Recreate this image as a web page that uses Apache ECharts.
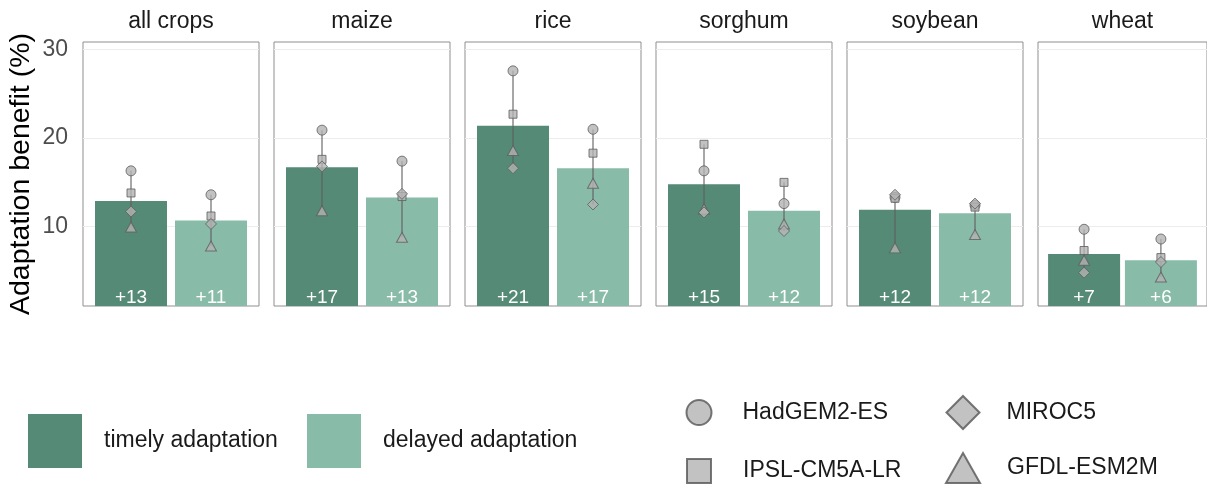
<!DOCTYPE html>
<html><head><meta charset="utf-8">
<script src="https://cdn.jsdelivr.net/npm/echarts@6/dist/echarts.min.js"></script>
<style>html,body{margin:0;padding:0;background:#fff}#c{width:1207px;height:487px}</style>
</head><body><div id="c"></div>
<script>
// ---- data ----
const crops = ['all crops', 'maize', 'rice', 'sorghum', 'soybean', 'wheat'];
const timelyBenefit  = [12.9, 16.7, 21.4, 14.8, 11.9, 6.9];
const delayedBenefit = [10.7, 13.3, 16.6, 11.8, 11.5, 6.2];
const gcmNames = ['GFDL-ESM2M', 'HadGEM2-ES', 'IPSL-CM5A-LR', 'MIROC5'];
const gfdlTimely    = [9.96, 11.8, 18.6, 12.0, 7.6, 6.2];
const gfdlDelayed   = [7.8, 8.8, 14.9, 10.3, 9.1, 4.3];
const hadgemTimely  = [16.3, 20.9, 27.6, 16.3, 13.3, 9.7];
const hadgemDelayed = [13.6, 17.4, 21.0, 12.6, 12.4, 8.6];
const ipslTimely    = [13.8, 17.6, 22.7, 19.3, 13.2, 7.3];
const ipslDelayed   = [11.2, 13.4, 18.3, 15.0, 12.2, 6.5];
const mirocTimely   = [11.7, 16.8, 16.6, 11.6, 13.6, 4.8];
const mirocDelayed  = [10.3, 13.7, 12.5, 9.5, 12.6, 6.0];
const yTicks = [10, 20, 30];

// ---- styling ----
const FONT = "'Liberation Sans', Arial, Helvetica, sans-serif";
const DARK = '#548A76', LIGHT = '#89BBA9';
const MFILL = '#b3b3b3', MSTROKE = '#5e5e5e';
const gcmTimely = [gfdlTimely, hadgemTimely, ipslTimely, mirocTimely];
const gcmDelayed = [gfdlDelayed, hadgemDelayed, ipslDelayed, mirocDelayed];
const gcmSymbols = ['triangle', 'circle', 'rect', 'diamond'];
const gcmSizes = [[11, 10], 10, 8, 11];

const grids = [], xAxes = [], yAxes = [], series = [];
crops.forEach((crop, i) => {
  grids.push({left: 83 + 191 * i, top: 42, width: 176, height: 264, show: true,
    borderColor: '#8f8f8f', borderWidth: 1, backgroundColor: '#fff'});
  xAxes.push({gridIndex: i, type: 'value', min: 0.4, max: 2.6, position: 'top',
    name: crop, nameLocation: 'middle', nameGap: 9,
    nameTextStyle: {fontSize: 23, color: '#1a1a1a', fontFamily: FONT},
    axisLine: {show: false}, axisTick: {show: false}, axisLabel: {show: false}, splitLine: {show: false}});
  yAxes.push({gridIndex: i, type: 'value', min: 1.03, max: 30.86,
    name: i === 0 ? 'Adaptation benefit (%)' : '', nameLocation: 'middle', nameGap: 47,
    nameTextStyle: {fontSize: 28.5, color: '#000', fontFamily: FONT},
    axisLine: {show: false},
    axisTick: {show: false, customValues: yTicks},
    axisLabel: {show: i === 0, customValues: yTicks, fontSize: 23, color: '#4d4d4d', margin: 15, fontFamily: FONT},
    splitLine: {show: true, lineStyle: {color: '#ededed', width: 1}}});
  const lbl = {show: true, position: 'insideBottom', distance: -1, color: '#fff', fontSize: 19, fontFamily: FONT,
    formatter: p => '+' + Math.round(p.value[1])};
  series.push({name: 'timely adaptation', type: 'bar', xAxisIndex: i, yAxisIndex: i, barWidth: 72, barGap: '-100%',
    data: [[1, timelyBenefit[i]]], itemStyle: {color: DARK}, label: lbl, z: 2, silent: true});
  series.push({name: 'delayed adaptation', type: 'bar', xAxisIndex: i, yAxisIndex: i, barWidth: 72, barGap: '-100%',
    data: [[2, delayedBenefit[i]]], itemStyle: {color: LIGHT}, label: lbl, z: 2, silent: true});
  const tv = gcmTimely.map(a => a[i]), dv = gcmDelayed.map(a => a[i]);
  series.push({type: 'custom', xAxisIndex: i, yAxisIndex: i, z: 3, silent: true,
    data: [[1, Math.min(...tv), Math.max(...tv)], [2, Math.min(...dv), Math.max(...dv)]],
    encode: {x: 0, y: [1, 2]},
    renderItem: (params, api) => {
      const a = api.coord([api.value(0), api.value(1)]);
      const b = api.coord([api.value(0), api.value(2)]);
      return {type: 'line', shape: {x1: a[0], y1: a[1], x2: b[0], y2: b[1]},
        style: {stroke: '#5f5f5f', lineWidth: 1.1}};
    }});
  gcmNames.forEach((g, k) => {
    series.push({name: g, type: 'scatter', xAxisIndex: i, yAxisIndex: i, z: 4, silent: true,
      symbol: gcmSymbols[k], symbolSize: gcmSizes[k],
      itemStyle: {color: MFILL, borderColor: MSTROKE, borderWidth: 1},
      data: [[1, gcmTimely[k][i]], [2, gcmDelayed[k][i]]]});
  });
});

function leg(name, icon, left, top, w, h, pad, style) {
  return {data: [name], icon: icon, left: left, top: top, itemWidth: w, itemHeight: h, padding: 0,
    selectedMode: false, orient: 'horizontal', itemStyle: style,
    formatter: n => '{p|}' + n,
    textStyle: {fontSize: 23, color: '#1a1a1a', fontFamily: FONT, rich: {p: {width: pad}}}};
}
const mStyle = {color: MFILL, borderColor: '#555555', borderWidth: 2};
const legends = [
  leg('timely adaptation', 'rect', 28, 414, 54, 54, 17, {color: DARK, borderWidth: 0}),
  leg('delayed adaptation', 'rect', 307, 414, 54, 54, 17, {color: LIGHT, borderWidth: 0}),
  leg('HadGEM2-ES', 'circle', 685.5, 399, 25, 25, 26, mStyle),
  leg('MIROC5', 'diamond', 945.5, 395, 33, 33, 22, mStyle),
  leg('IPSL-CM5A-LR', 'rect', 686, 458, 24, 24, 27, mStyle),
  leg('GFDL-ESM2M', 'triangle', 945, 452, 34, 30, 22, mStyle)
];

const chart = echarts.init(document.getElementById('c'), null, {renderer: 'canvas'});
chart.setOption({
  animation: false,
  backgroundColor: '#fff',
  textStyle: {fontFamily: FONT},
  grid: grids, xAxis: xAxes, yAxis: yAxes, series: series, legend: legends
});
</script></body></html>
